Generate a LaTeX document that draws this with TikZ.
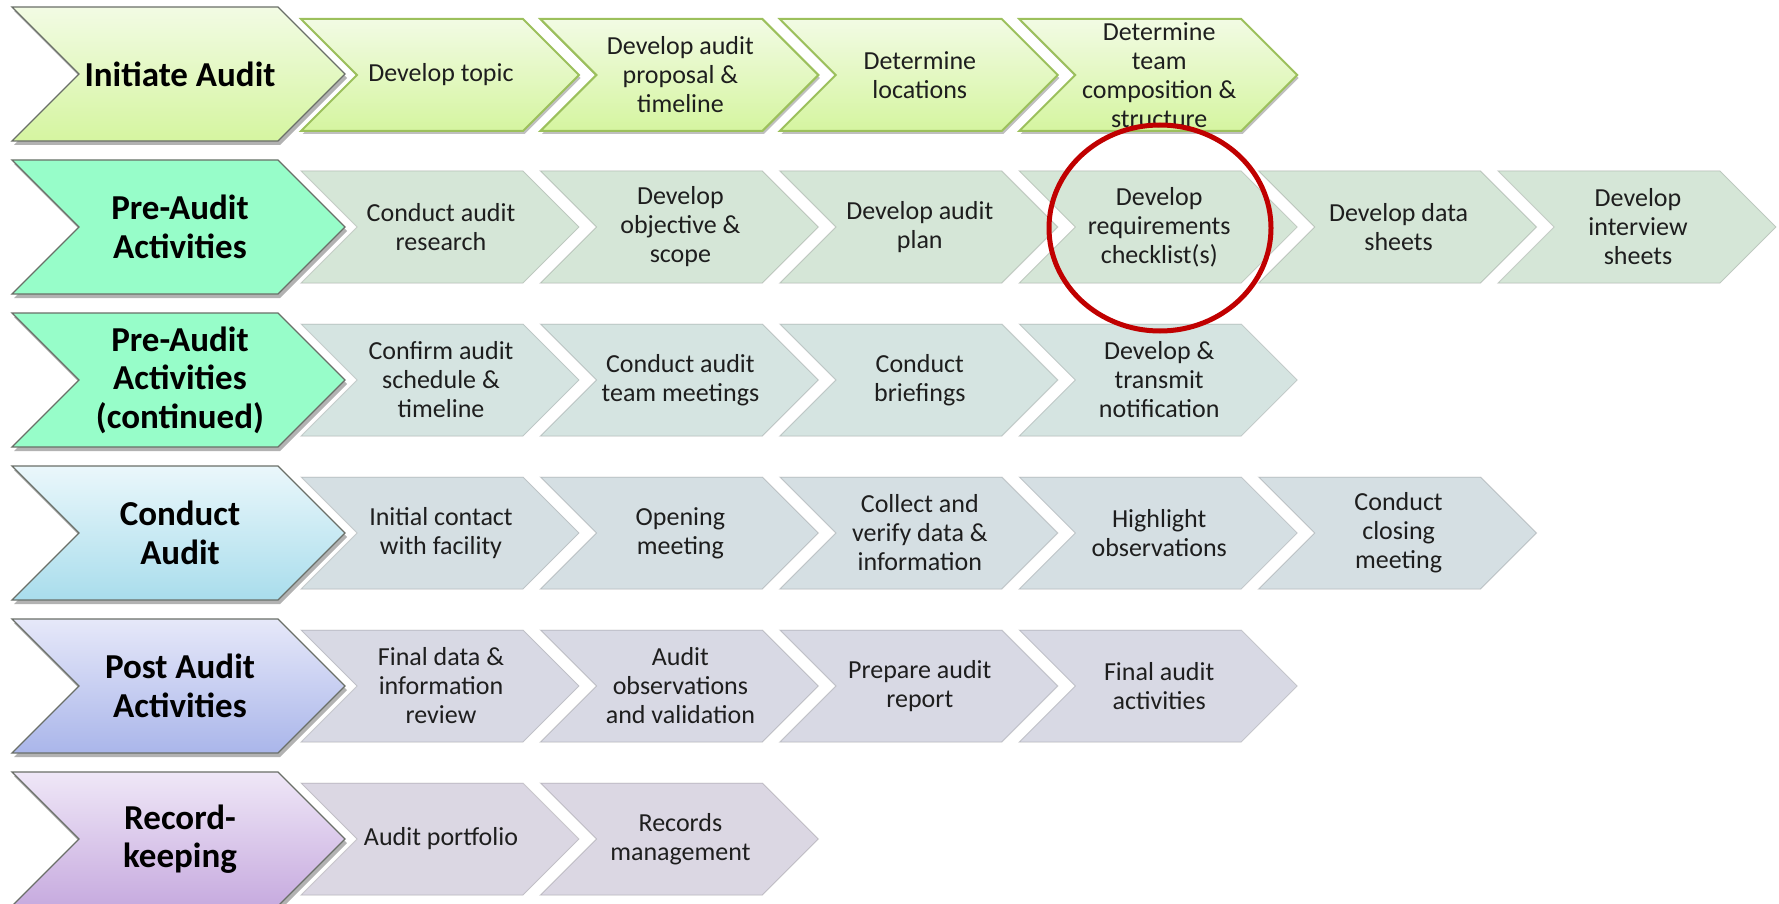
\documentclass[tikz,border=0pt]{standalone}
\usepackage{fontspec}
\setmainfont{Carlito}
\usetikzlibrary{shadows,shapes.geometric}
\definecolor{gA}{HTML}{F2FBE4}
\definecolor{gB}{HTML}{D5F5A0}
\definecolor{gEdge}{HTML}{9CC05C}
\definecolor{mint}{HTML}{97FDC9}
\definecolor{bA}{HTML}{EAF7FB}
\definecolor{bB}{HTML}{A9DDEC}
\definecolor{pA}{HTML}{E6E8F9}
\definecolor{pB}{HTML}{AAB6EA}
\definecolor{vA}{HTML}{EFE7F7}
\definecolor{vB}{HTML}{C7ABDF}
\definecolor{s2}{HTML}{D5E6D7}
\definecolor{s3}{HTML}{D5E4E1}
\definecolor{s4}{HTML}{D5DFE3}
\definecolor{s5}{HTML}{D8D9E4}
\definecolor{s6}{HTML}{DBD7E3}
\definecolor{hdrEdge}{HTML}{6A6F68}
\definecolor{txt}{HTML}{1E1E1E}
\definecolor{ringred}{HTML}{C00000}
\newcommand\chevpath[5]{\path[#1] (#2,#3-#5) -- ++(#4-#5,0) -- ++(#5,#5) -- ++(-#5,#5) -- ++(#5-#4,0) -- ++(#5,-#5) -- cycle;}
\newcommand\hdrrow[4]{% #1 y, #2 style, #3 name, #4 text
  \chevpath{hdr,#2}{12}{#1}{333}{67}
  \node[hdrtext] (#3) at (180,#1) {#4};}
\newcommand\steprow[4]{% #1 y, #2 style, #3 row id, #4 list
  \foreach \t [count=\i from 1] in {#4} {
    \pgfmathsetmacro\xl{301+239.4*(\i-1)}
    \chevpath{#2}{\xl}{#1}{278}{56}
    \node[steptext] (s#3-\i) at (\xl+140,#1) {\t};
  }}
\tikzset{
  hdr/.style={draw=hdrEdge, line width=1.3pt, line join=miter,
    drop shadow={shadow xshift=2pt, shadow yshift=-4pt, opacity=0.3, fill=black}},
  hdrtext/.style={font=\fontsize{35}{38.6}\selectfont\bfseries, text=black, align=center, inner sep=0pt},
  steptext/.style={font=\fontsize{26}{29}\selectfont, text=txt, align=center, inner sep=0pt},
  greenstep/.style={top color=gA, bottom color=gB, draw=gEdge, line width=2pt,
    drop shadow={shadow xshift=1.5pt, shadow yshift=-3pt, opacity=0.25, fill=black}},
  flatstep/.style={fill=#1, draw=black, draw opacity=0.15, line width=1pt},
  ring/.style={ellipse, draw=ringred, line width=5pt, inner sep=0pt}
}
\begin{document}
\begin{tikzpicture}[x=1pt,y=-1pt]
\useasboundingbox (0,0) rectangle (1779,904);
% row 1
\hdrrow{74}{top color=gA, bottom color=gB}{h1}{Initiate Audit}
\steprow{75}{greenstep}{1}{{Develop topic},{Develop audit\\proposal \&\\timeline},{Determine\\locations},{Determine\\team\\composition \&\\structure}}
% row 2
\hdrrow{227}{fill=mint}{h2}{Pre-Audit\\Activities}
\steprow{227}{flatstep=s2}{2}{{Conduct audit\\research},{Develop\\objective \&\\scope},{Develop audit\\plan},{Develop\\requirements\\checklist(s)},{Develop data\\sheets},{Develop\\interview\\sheets}}
% row 3
\hdrrow{380}{fill=mint}{h3}{Pre-Audit\\Activities\\(continued)}
\steprow{380}{flatstep=s3}{3}{{Confirm audit\\schedule \&\\timeline},{Conduct audit\\team meetings},{Conduct\\briefings},{Develop \&\\transmit\\notification}}
% row 4
\hdrrow{533}{top color=bA, bottom color=bB}{h4}{Conduct\\Audit}
\steprow{533}{flatstep=s4}{4}{{Initial contact\\with facility},{Opening\\meeting},{Collect and\\verify data \&\\information},{Highlight\\observations},{Conduct\\closing\\meeting}}
% row 5
\hdrrow{686}{top color=pA, bottom color=pB}{h5}{Post Audit\\Activities}
\steprow{686}{flatstep=s5}{5}{{Final data \&\\information\\review},{Audit\\observations\\and validation},{Prepare audit\\report},{Final audit\\activities}}
% row 6
\hdrrow{839}{top color=vA, bottom color=vB}{h6}{Record-\\keeping}
\steprow{839}{flatstep=s6}{6}{{Audit portfolio},{Records\\management}}
% highlight ring
\node[ring, minimum width=222pt, minimum height=206pt] (ring) at (1160,228) {};
\end{tikzpicture}
\end{document}
